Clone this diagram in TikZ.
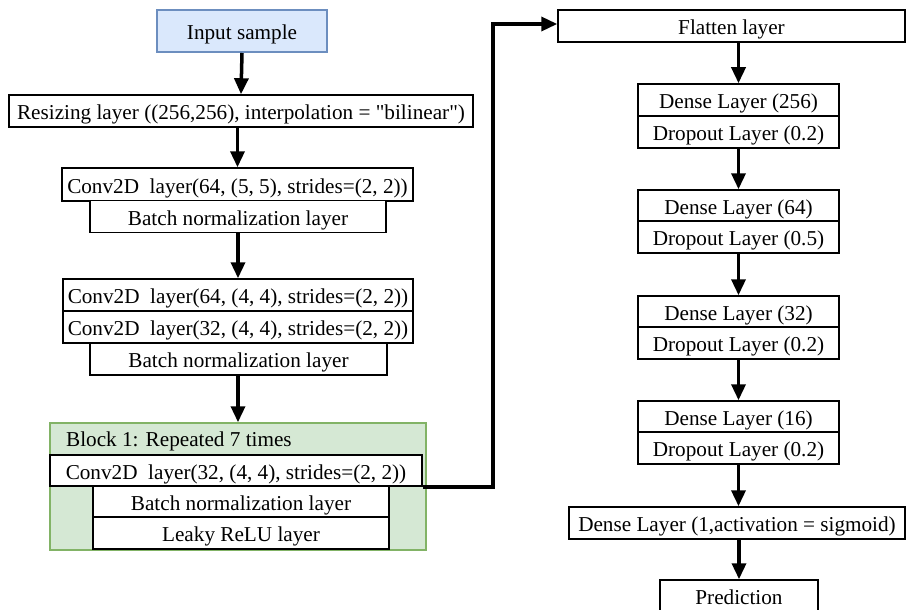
\documentclass[tikz,border=0pt]{standalone}
\usepackage{fontspec}
\setmainfont{Liberation Serif}
\usetikzlibrary{arrows.meta,calc}
\definecolor{inFill}{HTML}{DAE8FC}
\definecolor{inLine}{HTML}{6C8EBF}
\definecolor{blkFill}{HTML}{D5E8D4}
\definecolor{blkLine}{HTML}{82B366}
\tikzset{
  x=1pt, y=-1pt,
  every node/.style={font=\fontsize{21.2}{25}\selectfont},
  layer/.style={draw=black, line width=1.5pt, fill=white, inner sep=0pt,
    text height=17.5pt, text depth=0pt, anchor=center},
  flow/.style={line width=3.5pt, -{Triangle[width=14pt,length=16pt]}},
}
\begin{document}
\begin{tikzpicture}
\useasboundingbox (0,0) rectangle (907,610);
\clip (0,0) rectangle (907,610);

% input
\node[layer, draw=inLine, fill=inFill, line width=2pt, minimum width=170pt, minimum height=42pt] (in) at (242,31) {Input sample};

% feature extractor
\node[layer, minimum width=464pt, minimum height=32pt] (rs) at (241,111) {Resizing layer ((256,256), interpolation = \textquotedbl bilinear\textquotedbl)};
\node[layer, minimum width=351pt, minimum height=33pt] (c1) at (237.5,184.5) {Conv2D\ \ layer(64, (5, 5), strides=(2, 2))};
\node[layer, minimum width=296pt, minimum height=32pt] (b1) at (238,216.5) {Batch normalization layer};

\node[layer, minimum width=350pt, minimum height=32pt] (c2) at (238,295) {Conv2D\ \ layer(64, (4, 4), strides=(2, 2))};
\node[layer, minimum width=350pt, minimum height=32pt] (c3) at (238,327) {Conv2D\ \ layer(32, (4, 4), strides=(2, 2))};
\node[layer, minimum width=297pt, minimum height=32pt] (b2) at (238.5,359) {Batch normalization layer};

% repeated block
\node[draw=blkLine, fill=blkFill, line width=1.5pt, inner sep=0pt, minimum width=376pt, minimum height=127pt] (blk) at (238,486.5) {};
\node[anchor=base west, inner sep=0pt] (blkt) at (66,446) {Block 1: Repeated 7 times};
\node[layer, minimum width=372pt, minimum height=31pt] (c4) at (236,470.5) {Conv2D\ \ layer(32, (4, 4), strides=(2, 2))};
\node[layer, minimum width=296pt, minimum height=31pt] (b3) at (241,501.5) {Batch normalization layer};
\node[layer, minimum width=296pt, minimum height=32pt] (lr) at (241,533) {Leaky ReLU layer};

% classifier
\node[layer, minimum width=347pt, minimum height=32pt] (fl) at (731.5,26) {Flatten layer};
\node[layer, minimum width=201pt, minimum height=32pt] (d1) at (738.5,100) {Dense Layer (256)};
\node[layer, minimum width=201pt, minimum height=32pt] (p1) at (738.5,132) {Dropout Layer (0.2)};
\node[layer, minimum width=201pt, minimum height=31pt] (d2) at (738.5,205.5) {Dense Layer (64)};
\node[layer, minimum width=201pt, minimum height=32pt] (p2) at (738.5,237) {Dropout Layer (0.5)};
\node[layer, minimum width=201pt, minimum height=31pt] (d3) at (738.5,311.5) {Dense Layer (32)};
\node[layer, minimum width=201pt, minimum height=32pt] (p3) at (738.5,343) {Dropout Layer (0.2)};
\node[layer, minimum width=201pt, minimum height=31pt] (d4) at (738.5,416.5) {Dense Layer (16)};
\node[layer, minimum width=201pt, minimum height=32pt] (p4) at (738.5,448) {Dropout Layer (0.2)};
\node[layer, minimum width=336pt, minimum height=32pt] (ds) at (737,523) {Dense Layer (1,activation = sigmoid)};
\node[layer, minimum width=158pt, minimum height=32pt] (pr) at (739,596) {Prediction};

% connectors
\draw[flow] (in.south) -- (rs.north);
\draw[flow] (rs.south -| c1.north) -- (c1.north);
\draw[flow] (b1.south -| c2.north) -- (c2.north);
\draw[flow] (b2.south -| blk.north) -- (blk.north);

\coordinate (jog) at (493,0);
\draw[flow] (c4.south east) -- (c4.south east -| jog) |- ([yshift=2pt]fl.west);

\draw[flow] (fl.south -| d1.north) -- (d1.north);
\draw[flow] (p1.south) -- (d2.north);
\draw[flow] (p2.south) -- (d3.north);
\draw[flow] (p3.south) -- (d4.north);
\draw[flow] (p4.south) -- (ds.north -| p4.south);
\draw[flow] (ds.south -| pr.north) -- (pr.north);
\end{tikzpicture}
\end{document}
